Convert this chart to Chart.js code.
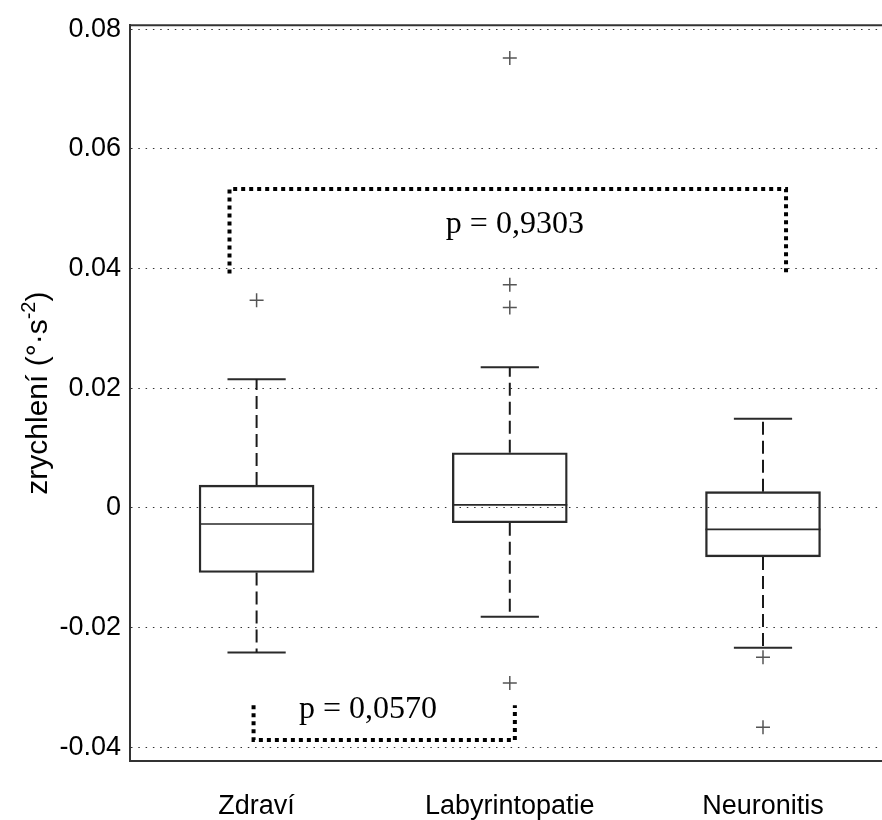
<!DOCTYPE html>
<html>
<head>
<meta charset="utf-8">
<script src="https://cdn.jsdelivr.net/npm/chart.js@4/dist/chart.umd.min.js"></script>
<style>
  body { margin: 0; background: #fff; }
  #box { display: block; }
</style>
</head>
<body>
<canvas id="box" width="882" height="820"></canvas>
<script>
// values
const categories = ['Zdraví', 'Labyrintopatie', 'Neuronitis'];
const whiskerLow = [-0.0242, -0.0182, -0.0234];
const q1 = [-0.0108, -0.0025, -0.0082];
const median = [-0.0027, 0.0005, -0.0036];
const q3 = [0.0038, 0.0092, 0.0027];
const whiskerHigh = [0.0215, 0.0235, 0.0149];
const outliers = [[0.0347], [0.0752, 0.0373, 0.0335, -0.0293], [-0.0250, -0.0367]];
const yTicks = [-0.04, -0.02, 0, 0.02, 0.04, 0.06, 0.08];
const pLabels = ['p = 0,9303', 'p = 0,0570'];
const yTitle = ['zrychlení (°·s', '-2', ')'];

const SANS = '"Liberation Sans", Arial, sans-serif';
const SERIF = '"Liberation Serif", "Times New Roman", serif';
const BOX_HALF = 0.227;   // half box width, x units
const CAP_HALF = 0.115;   // half whisker cap width

// significance brackets (x in category units, y in data units)
const brackets = [
  { pts: [[0.893, 0.0392], [0.893, 0.0533], [3.091, 0.0533], [3.091, 0.0392]], text: pLabels[0], tx: 2.02, ty: 0.0460 },
  { pts: [[0.988, -0.0330], [0.988, -0.0388], [2.02, -0.0388], [2.02, -0.0330]], text: pLabels[1], tx: 1.44, ty: -0.0352 }
];

function segs(list) {
  // list of [x1,y1,x2,y2] -> points, y:null breaks the line
  const out = [];
  list.forEach(s => { out.push({x: s[0], y: s[1]}, {x: s[2], y: s[3]}, {x: s[2], y: null}); });
  return out;
}

const whiskerSegs = [], capSegs = [], medianSegs = [], outlierPts = [];
categories.forEach((c, i) => {
  const x = i + 1;
  whiskerSegs.push([x, q3[i], x, whiskerHigh[i]], [x, q1[i], x, whiskerLow[i]]);
  capSegs.push([x - CAP_HALF, whiskerHigh[i], x + CAP_HALF, whiskerHigh[i]],
               [x - CAP_HALF, whiskerLow[i], x + CAP_HALF, whiskerLow[i]]);
  medianSegs.push([x - BOX_HALF, median[i], x + BOX_HALF, median[i]]);
  outliers[i].forEach(v => outlierPts.push({x: x, y: v}));
});

const lineBase = { type: 'line', pointRadius: 0, spanGaps: false, fill: false, tension: 0 };

const datasets = [
  {
    type: 'bar',
    data: categories.map((c, i) => ({x: i + 1, y: [q1[i], q3[i]]})),
    backgroundColor: 'rgba(255,255,255,0)',
    borderColor: '#2a2a2a',
    borderWidth: 1.7,
    borderSkipped: false,
    barThickness: 115
  },
  Object.assign({}, lineBase, { data: segs(medianSegs), borderColor: '#2a2a2a', borderWidth: 1.7 }),
  Object.assign({}, lineBase, { data: segs(whiskerSegs), borderColor: '#1a1a1a', borderWidth: 2, borderDash: [13, 6] }),
  Object.assign({}, lineBase, { data: segs(capSegs), borderColor: '#2a2a2a', borderWidth: 2 }),
  {
    type: 'scatter',
    data: outlierPts,
    pointStyle: 'cross',
    pointRadius: 7,
    borderColor: '#555',
    borderWidth: 1.5,
    backgroundColor: '#555'
  }
];
brackets.forEach(b => {
  datasets.push(Object.assign({}, lineBase, {
    data: b.pts.map(p => ({x: p[0], y: p[1]})),
    borderColor: '#000',
    borderWidth: 4,
    borderDash: [4, 4],
    borderCapStyle: 'butt'
  }));
});

const frame = {
  id: 'frame',
  afterDatasetsDraw(chart) {
    const {ctx, chartArea, scales} = chart;
    ctx.save();
    ctx.strokeStyle = '#333';
    ctx.lineWidth = 2;
    ctx.beginPath();
    ctx.moveTo(chartArea.left, chartArea.top);
    ctx.lineTo(chartArea.right, chartArea.top);
    ctx.stroke();
    ctx.fillStyle = '#000';
    ctx.font = '32px ' + SERIF;
    ctx.textAlign = 'center';
    ctx.textBaseline = 'alphabetic';
    brackets.forEach(b => {
      ctx.fillText(b.text, scales.x.getPixelForValue(b.tx), scales.y.getPixelForValue(b.ty));
    });

    // y axis title with superscript exponent
    const big = '30px ' + SANS, small = '20px ' + SANS;
    ctx.font = big;
    const w0 = ctx.measureText(yTitle[0]).width, w2 = ctx.measureText(yTitle[2]).width;
    ctx.font = small;
    const w1 = ctx.measureText(yTitle[1]).width;
    const total = w0 + w1 + w2;
    ctx.translate(47, (chartArea.top + chartArea.bottom) / 2);
    ctx.rotate(-Math.PI / 2);
    ctx.textAlign = 'left';
    let x = -total / 2;
    ctx.font = big;
    ctx.fillText(yTitle[0], x, 0);
    x += w0;
    ctx.font = small;
    ctx.fillText(yTitle[1], x, -12);
    x += w1;
    ctx.font = big;
    ctx.fillText(yTitle[2], x, 0);
    ctx.restore();
  }
};

new Chart(document.getElementById('box'), {
  data: { datasets: datasets },
  plugins: [frame],
  options: {
    responsive: false,
    animation: false,
    layout: { autoPadding: false, padding: { top: 22, right: 0, bottom: 0, left: 0 } },
    plugins: { legend: { display: false }, tooltip: { enabled: false } },
    scales: {
      x: {
        type: 'linear',
        min: 0.5,
        max: 3.47,
        offset: false,
        afterBuildTicks: s => { s.ticks = categories.map((c, i) => ({value: i + 1})); },
        afterFit: s => { s.height = 59; },
        ticks: {
          callback: (v, i) => categories[i],
          color: '#000',
          font: { family: SANS, size: 27 },
          padding: 29,
          maxRotation: 0
        },
        grid: { display: false, drawTicks: false },
        border: { display: true, color: '#333', width: 2 }
      },
      y: {
        type: 'linear',
        min: -0.04233,
        max: 0.0807,
        afterBuildTicks: s => { s.ticks = yTicks.map(v => ({value: v})); },
        afterFit: s => { s.width = 130; },
        ticks: {
          callback: v => (v === 0 ? '0' : v.toFixed(2)),
          color: '#000',
          font: { family: SANS, size: 27 },
          padding: 9
        },
        grid: { color: '#333', lineWidth: 1, drawTicks: false },
        border: { display: true, color: '#333', width: 2, dash: [1.5, 5.8] }
      }
    }
  }
});
</script>
</body>
</html>
